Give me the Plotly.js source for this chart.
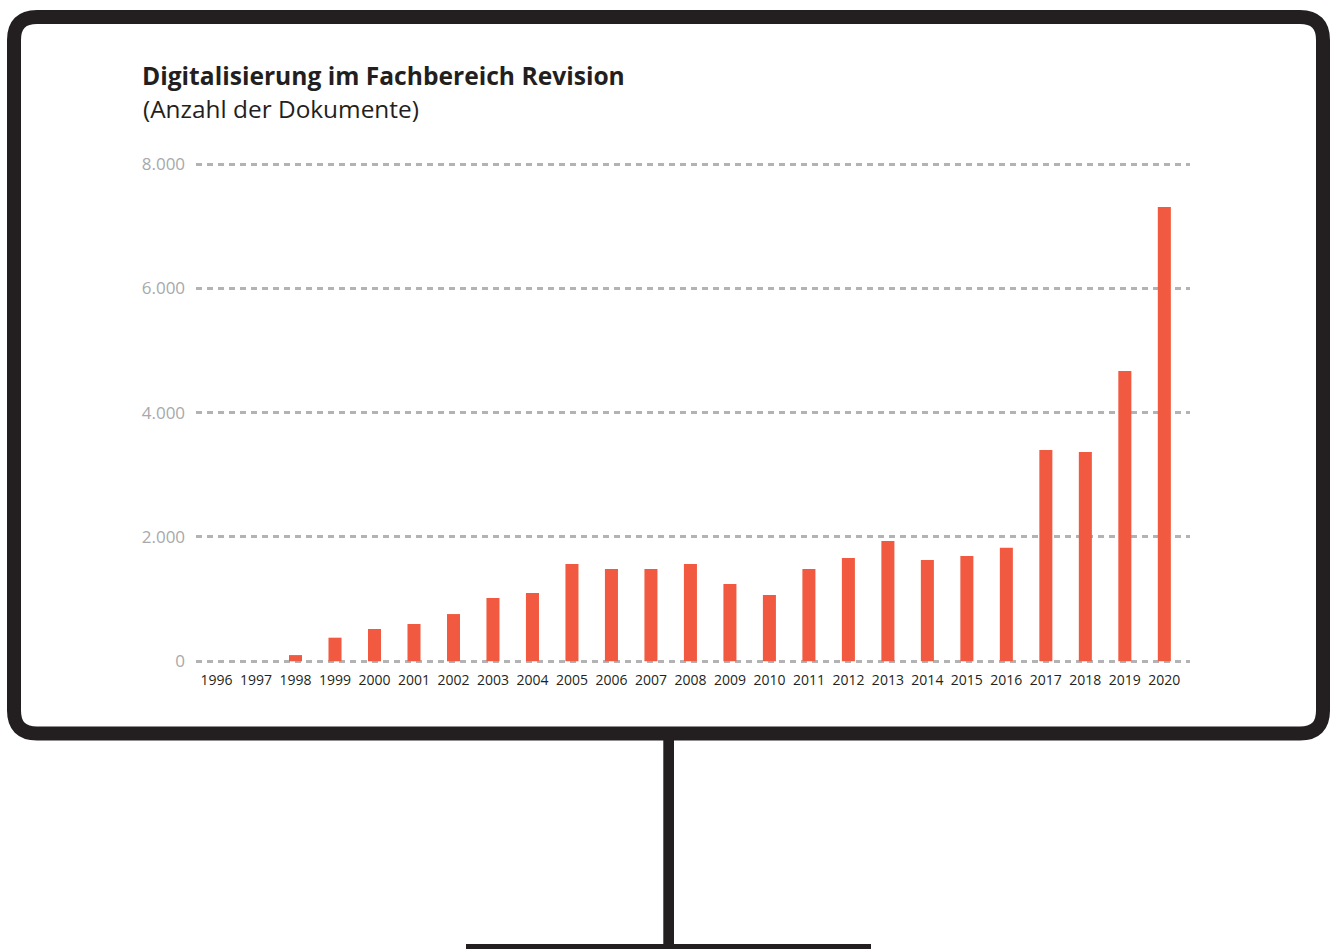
<!DOCTYPE html>
<html lang="de">
<head>
<meta charset="utf-8">
<title>Digitalisierung im Fachbereich Revision</title>
<script src="https://cdn.plot.ly/plotly-3.0.1.min.js"></script>
<style>
  html, body { margin: 0; padding: 0; background: #ffffff; }
  #chart { width: 1334px; height: 949px; }
</style>
</head>
<body>
<div id="chart"></div>
<script>
// Jahre und Anzahl der digitalisierten Dokumente je Jahr
const years = [1996, 1997, 1998, 1999, 2000, 2001, 2002, 2003, 2004, 2005, 2006, 2007, 2008,
               2009, 2010, 2011, 2012, 2013, 2014, 2015, 2016, 2017, 2018, 2019, 2020];
const documents = [0, 0, 100, 380, 520, 600, 760, 1020, 1100, 1565, 1485, 1485, 1565,
                   1245, 1065, 1485, 1660, 1935, 1630, 1695, 1825, 3400, 3365, 4670, 7310];

const titleText = 'Digitalisierung im Fachbereich Revision';
const subtitleText = '(Anzahl der Dokumente)';

const FONT = 'Open Sans, Noto Sans, sans-serif';
const INK = '#231f20';
const BAR = '#f15a40';

// plot area in page pixels
const W = 1334, H = 949;
const M = { l: 196, r: 144, t: 158, b: 281 };
const plotW = W - M.l - M.r;
const plotH = H - M.t - M.b;
const px = x => (x - M.l) / plotW;          // page x -> paper x
const py = y => (H - M.b - y) / plotH;      // page y -> paper y

// monitor frame: rounded rectangle drawn along the stroke centre line
function roundedRect(l, t, r, b, rad) {
  const p = (x, y) => px(x) + ',' + py(y);
  return 'M' + p(l + rad, t) +
         ' L' + p(r - rad, t) +
         ' Q' + p(r, t) + ' ' + p(r, t + rad) +
         ' L' + p(r, b - rad) +
         ' Q' + p(r, b) + ' ' + p(r - rad, b) +
         ' L' + p(l + rad, b) +
         ' Q' + p(l, b) + ' ' + p(l, b - rad) +
         ' L' + p(l, t + rad) +
         ' Q' + p(l, t) + ' ' + p(l + rad, t) + ' Z';
}

const shapes = [
  { type: 'path', xref: 'paper', yref: 'paper', layer: 'below',
    path: roundedRect(14, 17, 1323, 733.5, 23),
    line: { color: INK, width: 14 }, fillcolor: 'rgba(0,0,0,0)' },
  // stand
  { type: 'rect', xref: 'paper', yref: 'paper', layer: 'below',
    x0: px(663.3), x1: px(674), y0: py(739), y1: py(944),
    fillcolor: INK, line: { width: 0 } },
  // foot
  { type: 'rect', xref: 'paper', yref: 'paper', layer: 'below',
    x0: px(466), x1: px(871), y0: py(944), y1: py(960),
    fillcolor: INK, line: { width: 0 } }
];

const trace = {
  type: 'bar',
  x: years,
  y: documents,
  width: 0.33,
  marker: { color: BAR, line: { width: 0 } },
  hoverinfo: 'x+y'
};

const layout = {
  width: W,
  height: H,
  margin: { l: M.l, r: M.r, t: M.t, b: M.b, pad: 0 },
  paper_bgcolor: '#ffffff',
  plot_bgcolor: 'rgba(0,0,0,0)',
  separators: ',.',
  showlegend: false,
  font: { family: FONT, color: INK },
  title: {
    text: '<b>' + titleText + '</b>',
    font: { family: FONT, size: 24.6, color: INK },
    xref: 'container', x: 142 / W, xanchor: 'left',
    yref: 'container', y: 1 - 68 / H, yanchor: 'top'
  },
  annotations: [{
    text: subtitleText,
    xref: 'paper', yref: 'paper',
    x: px(141), xanchor: 'left',
    y: py(109), yanchor: 'middle',
    showarrow: false,
    font: { family: FONT, size: 24.4, color: INK }
  }],
  xaxis: {
    range: [1995.48, 2020.65],
    tickmode: 'linear', tick0: 1996, dtick: 1, tickformat: 'd',
    showgrid: false, zeroline: false, showline: false,
    ticks: '', ticklabelstandoff: 2,
    tickfont: { family: FONT, size: 14, color: INK },
    fixedrange: true
  },
  yaxis: {
    range: [-107.8, 8096.5],
    tickmode: 'linear', tick0: 0, dtick: 2000, tickformat: ',d',
    showgrid: true, gridcolor: '#b3b3b6', gridwidth: 2.5, griddash: '6px,5px',
    zeroline: false, showline: false,
    ticks: 'outside', ticklen: 6.5, tickcolor: 'rgba(0,0,0,0)',
    tickfont: { family: FONT, size: 17, color: '#a7a9ac' },
    fixedrange: true
  },
  shapes: shapes
};

Plotly.newPlot('chart', [trace], layout, { displayModeBar: false, responsive: false });
</script>
</body>
</html>
